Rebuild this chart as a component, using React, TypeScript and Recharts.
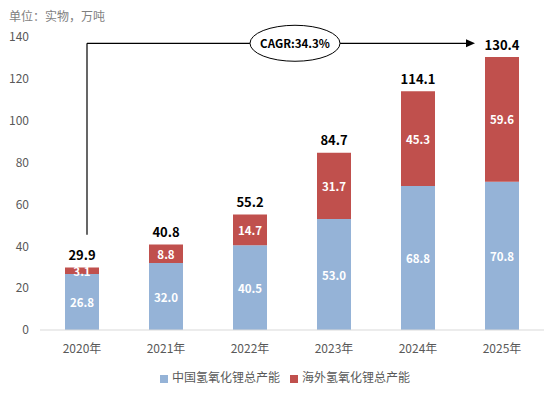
import React from 'react';
import {
  BarChart,
  Bar,
  XAxis,
  YAxis,
  LabelList,
  Legend,
  ReferenceLine
} from 'recharts';

const years = ['2020年', '2021年', '2022年', '2023年', '2024年', '2025年'];
const chinaCapacity = [26.8, 32.0, 40.5, 53.0, 68.8, 70.8];
const overseasCapacity = [3.1, 8.8, 14.7, 31.7, 45.3, 59.6];
const totals = [29.9, 40.8, 55.2, 84.7, 114.1, 130.4];
const yTicks = [0, 20, 40, 60, 80, 100, 120, 140];

const BLUE = '#95B3D7';
const RED = '#C0504D';
const FONT = '"Noto Sans CJK SC", "Noto Sans", sans-serif';

const data = years.map((year, i) => ({
  year,
  china: chinaCapacity[i],
  overseas: overseasCapacity[i],
  total: totals[i]
}));

// vertical leg of the CAGR arrow
const VerticalLeg = (props: any) => {
  const { x1, y1, y2 } = props;
  return <line x1={x1 + 5} y1={y1} x2={x1 + 5} y2={y2} stroke="#000" strokeWidth={1.2} />;
};

// horizontal leg with arrow head and CAGR ellipse
const HorizontalLeg = (props: any) => {
  const { x1, x2, y1 } = props;
  const start = x1 + 5;
  const end = x2 - 27;
  const cx = 295;
  return (
    <g>
      <line x1={start} y1={y1} x2={end - 8} y2={y1} stroke="#000" strokeWidth={1.2} />
      <polygon points={`${end},${y1} ${end - 9},${y1 - 4} ${end - 9},${y1 + 4}`} fill="#000" />
      <ellipse cx={cx} cy={y1} rx={45} ry={18} fill="#fff" stroke="#000" strokeWidth={1} />
      <text
        x={cx}
        y={y1}
        textAnchor="middle"
        dominantBaseline="central"
        fontSize={11.5}
        fontWeight="bold"
        fontFamily={FONT}
        fill="#000"
      >
        CAGR:34.3%
      </text>
    </g>
  );
};

const renderTotal = (props: any) => {
  const { x, y, width, index } = props;
  return (
    <text
      x={x + width / 2}
      y={y - 13}
      textAnchor="middle"
      dominantBaseline="central"
      fontSize={13}
      fontWeight="bold"
      fontFamily={FONT}
      fill="#000"
    >
      {totals[index].toFixed(1)}
    </text>
  );
};

const renderInner = (props: any) => {
  const { x, y, width, height, value } = props;
  return (
    <text
      x={x + width / 2}
      y={y + height / 2}
      textAnchor="middle"
      dominantBaseline="central"
      fontSize={11.5}
      fontWeight="bold"
      fontFamily={FONT}
      fill="#fff"
    >
      {Number(value).toFixed(1)}
    </text>
  );
};

const App: React.FC = () => {
  return (
    <div style={{ position: 'absolute', left: 0, top: 0, width: 555, height: 394, background: '#fff', fontFamily: FONT }}>
      <div style={{ position: 'absolute', left: 9, top: 8, fontSize: 12, color: '#7f7f7f', lineHeight: '16px' }}>
        单位：实物，万吨
      </div>
      <BarChart
        width={555}
        height={394}
        data={data}
        margin={{ top: 37, right: 11, left: 0, bottom: 0 }}
        barSize={34}
      >
        <XAxis
          dataKey="year"
          axisLine={{ stroke: '#d9d9d9' }}
          tickLine={false}
          tick={{ fill: '#595959', fontSize: 12, fontFamily: FONT }}
          tickMargin={8}
          height={30}
        />
        <YAxis
          type="number"
          domain={[0, 140]}
          ticks={yTicks}
          width={40}
          axisLine={false}
          tickLine={false}
          tickMargin={5}
          tick={{ fill: '#595959', fontSize: 12, fontFamily: FONT }}
        />
        <Legend
          verticalAlign="bottom"
          align="center"
          iconType="square"
          iconSize={8}
          height={34}
          wrapperStyle={{ fontSize: 12, fontFamily: FONT, color: '#595959', top: 368, left: 18 }}
          formatter={(value: string) => <span style={{ color: '#595959' }}>{value}</span>}
        />
        <Bar dataKey="china" name="中国氢氧化锂总产能" stackId="a" fill={BLUE} isAnimationActive={false}>
          <LabelList dataKey="china" content={renderInner} />
        </Bar>
        <Bar dataKey="overseas" name="海外氢氧化锂总产能" stackId="a" fill={RED} isAnimationActive={false}>
          <LabelList dataKey="overseas" content={renderInner} />
          <LabelList dataKey="total" content={renderTotal} />
        </Bar>
        <ReferenceLine
          segment={[{ x: '2020年', y: 45.5 }, { x: '2020年', y: 137 }]}
          shape={VerticalLeg}
          ifOverflow="visible"
        />
        <ReferenceLine
          segment={[{ x: '2020年', y: 137 }, { x: '2025年', y: 137 }]}
          shape={HorizontalLeg}
          ifOverflow="visible"
        />
      </BarChart>
    </div>
  );
};

export default App;
